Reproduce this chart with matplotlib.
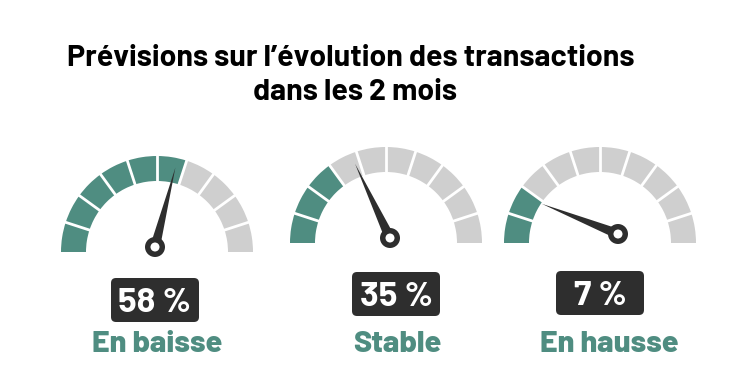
import numpy as np
import matplotlib.pyplot as plt
from matplotlib.patches import Wedge, Polygon, Circle, FancyBboxPatch

# données
labels = ["En baisse", "Stable", "En hausse"]
values = [58, 35, 7]
segments_pleins = [6, 3, 2]
aiguille_pct = [58, 36, 12]

# position des jauges (pixels, y vers le bas)
centres = [(157, 252), (386, 243), (600, 243)]
pivots = [(155, 247), (390, 238), (618, 234)]
boites = [(155, 300), (396, 294), (600, 293)]
label_pos = [(157, 342), (397, 342), (609, 342)]

VERT = "#4f8d81"
GRIS = "#cfcfcf"
NOIR = "#2e2e2e"
W, H = 750, 374
R_EXT, R_INT = 96, 71
N_SEG = 10

fig = plt.figure(figsize=(7.5, 3.74), dpi=100)
ax = fig.add_axes([0, 0, 1, 1])
ax.set_xlim(0, W)
ax.set_ylim(0, H)
ax.set_aspect("equal")
ax.axis("off")

f_titre = ["Barlow", "DejaVu Sans"]
f_label = ["Barlow", "DejaVu Sans"]

# titre
ax.text(351, H - 66, "Prévisions sur l\u2019évolution des transactions", ha="center", va="baseline",
        fontsize=21.8, fontweight="bold", family=f_titre, color="black")
ax.text(355, H - 100, "dans les 2 mois", ha="center", va="baseline",
        fontsize=21.8, fontweight="bold", family=f_titre, color="black")

for k in range(3):
    cx, cy = centres[k][0], H - centres[k][1]
    # segments
    for i in range(N_SEG):
        t1 = 180 - 18 * (i + 1)
        t2 = 180 - 18 * i
        col = VERT if i < segments_pleins[k] else GRIS
        ax.add_patch(Wedge((cx, cy), R_EXT, t1, t2, width=R_EXT - R_INT,
                           facecolor=col, edgecolor="none"))
    # séparations blanches
    for i in range(1, N_SEG):
        a = np.radians(180 - 18 * i)
        ax.plot([cx + (R_INT - 2) * np.cos(a), cx + (R_EXT + 2) * np.cos(a)],
                [cy + (R_INT - 2) * np.sin(a), cy + (R_EXT + 2) * np.sin(a)],
                color="white", lw=2, solid_capstyle="butt")
    # aiguille
    px, py = pivots[k][0], H - pivots[k][1]
    ang = np.radians(180 - 1.8 * aiguille_pct[k])
    L = 82
    tip = (px + L * np.cos(ang), py + L * np.sin(ang))
    perp = ang + np.pi / 2
    hw = 5
    base1 = (px + hw * np.cos(perp), py + hw * np.sin(perp))
    base2 = (px - hw * np.cos(perp), py - hw * np.sin(perp))
    ax.add_patch(Polygon([base1, tip, base2], closed=True, facecolor=NOIR, edgecolor="none"))
    ax.add_patch(Circle((px, py), 10, facecolor=NOIR, edgecolor="none"))
    ax.add_patch(Circle((px, py), 4.5, facecolor="white", edgecolor="none"))

    # boîte valeur
    bx, by = boites[k][0], H - boites[k][1]
    bw, bh = 88, 44
    ax.add_patch(FancyBboxPatch((bx - bw / 2 + 5, by - bh / 2 + 5), bw - 10, bh - 10,
                                boxstyle="round,pad=5", facecolor=NOIR, edgecolor="none"))
    ax.text(bx, by, f"{values[k]} %", ha="center", va="center_baseline", color="white",
            fontsize=25, fontweight="bold", family=f_titre)
    # étiquette
    lx, ly = label_pos[k][0], H - label_pos[k][1]
    ax.text(lx, ly, labels[k], ha="center", va="center_baseline", color=VERT,
            fontsize=22, fontweight="heavy", family=f_label)

fig.savefig("out.png", dpi=100)
